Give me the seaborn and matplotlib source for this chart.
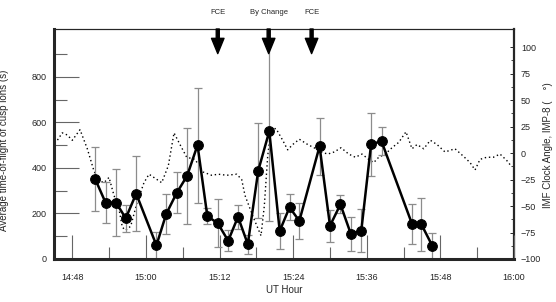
import numpy as np
import pandas as pd
import seaborn as sns
import matplotlib.pyplot as plt
from matplotlib.ticker import FixedLocator, FixedFormatter
import matplotlib.transforms as mtransforms

# time in minutes after 14:00 UT
tof_time = [51.7, 53.4, 55.1, 56.7, 58.4, 61.7, 63.3, 65.0, 66.7, 68.4,
            70.0, 71.7, 73.4, 75.0, 76.6, 78.3, 80.1, 81.8, 83.4, 85.0,
            88.3, 90.0, 91.7, 93.4, 95.1, 96.7, 98.4, 103.4, 104.9, 106.7]
tof_value = [352, 248, 248, 179, 287, 60, 198, 290, 365, 500,
             188, 157, 80, 185, 65, 388, 561, 123, 227, 167,
             495, 146, 240, 110, 124, 504, 517, 152, 152, 57]
tof_err_lo = [140, 90, 147, 60, 165, 60, 89, 90, 210, 252,
              35, 105, 47, 54, 42, 210, 393, 81, 57, 79,
              125, 70, 40, 75, 95, 138, 62, 88, 115, 55]
tof_err_hi = [140, 90, 147, 60, 165, 60, 89, 90, 210, 252,
              35, 105, 47, 54, 42, 210, 470, 81, 57, 79,
              125, 70, 40, 75, 95, 138, 62, 88, 115, 55]

imf_time = [45.0, 45.54, 46.35, 47.17, 47.98, 49.24, 50.43, 51.52, 52.34, 53.15,
            53.97, 54.78, 55.60, 56.14, 56.69, 57.51, 58.58, 59.67, 60.49, 62.56,
            63.64, 64.57, 65.54, 66.64, 67.99, 69.34, 70.71, 71.79, 73.16, 74.79,
            75.60, 76.14, 77.45, 78.75, 79.29, 79.84, 80.38, 81.20, 82.29, 83.10,
            83.92, 85.00, 86.37, 87.72, 88.54, 89.63, 90.70, 91.80, 93.05, 94.13,
            95.22, 96.31, 97.13, 97.94, 99.02, 100.11, 101.20, 102.39, 103.37, 104.19,
            105.28, 106.36, 107.45, 108.75, 110.38, 111.74, 112.83, 113.65, 114.46, 115.55,
            116.63, 117.72, 118.81, 119.63]
imf_angle = [10, 12, 19, 17, 12, 22, 4, -17, -26, -28,
             -23, -40, -53, -70, -73, -69, -46, -28, -20, -28,
             -12, 19, 8, -4, -6, -18, -21, -20, -21, -20,
             -25, -40, -60, -78, -50, -3, 23, 23, 12, 3,
             8, 13, 8, 4, 1, -1, 1, 5, -1, -4,
             -1, -6, -9, -4, -1, 5, 10, 20, 4, 8,
             4, 12, 8, 1, 4, -3, -9, -16, -6, -4,
             -4, -1, -7, -13]

event_time = [71.7, 80.0, 87.0]
event_label = ['FCE', 'By Change', 'FCE']

xtick_pos = [48, 60, 72, 84, 96, 108, 120]
xtick_lab = ['14:48', '15:00', '15:12', '15:24', '15:36', '15:48', '16:00']

sns.set_style('ticks')
plt.rcParams['font.family'] = ['Liberation Sans', 'DejaVu Sans']

fig = plt.figure(figsize=(5.56, 3.02), dpi=100)
ax = fig.add_axes([54 / 556, 43 / 302, 460 / 556, 230 / 302])
ax2 = ax.twinx()
ax.set_zorder(ax2.get_zorder() + 1)
ax.patch.set_visible(False)

# IMF clock angle (dotted, right axis)
sns.lineplot(x=imf_time, y=imf_angle, ax=ax2, color='black',
             linestyle=(0, (1, 2)), linewidth=1.0, sort=False)

# time-of-flight with error bars (left axis)
ax.errorbar(tof_time, tof_value, yerr=[tof_err_lo, tof_err_hi], fmt='none',
            ecolor='#8c8c8c', elinewidth=0.9, capsize=3, capthick=0.9, zorder=1)
sns.lineplot(x=tof_time, y=tof_value, ax=ax, color='black', linewidth=1.8,
             marker='o', markersize=7, markeredgecolor='black', sort=False, zorder=3)

ax.set_xlim(45, 120)
ax.set_ylim(0, 1010)
ax2.set_ylim(-100, 117)

ax.xaxis.set_major_locator(FixedLocator(xtick_pos))
ax.xaxis.set_major_formatter(FixedFormatter(xtick_lab))
ax.xaxis.set_minor_locator(FixedLocator([54, 66, 78, 90, 102, 114]))
ax.yaxis.set_major_locator(FixedLocator([0, 200, 400, 600, 800]))
ax.yaxis.set_minor_locator(FixedLocator([100, 300, 500, 700, 900]))
ax2.yaxis.set_major_locator(FixedLocator([-100, -75, -50, -25, 0, 25, 50, 75, 100]))
ax2.yaxis.set_minor_locator(FixedLocator(np.arange(-87.5, 110, 25)))

ax.tick_params(axis='x', which='major', direction='in', length=17, width=0.8,
               color='#666666', labelsize=6.5, pad=10)
ax.tick_params(axis='x', which='minor', direction='in', length=8.5, width=0.8,
               color='#666666')
ax.tick_params(axis='y', which='major', direction='in', length=18, width=0.8,
               color='#666666', labelsize=6.5, pad=5)
ax.tick_params(axis='y', which='minor', direction='in', length=9, width=0.8,
               color='#666666')
ax2.tick_params(axis='y', which='major', direction='in', length=3, width=0.7,
                labelsize=6.5, pad=5)
ax2.tick_params(axis='y', which='minor', direction='in', length=2, width=0.6)

ax.spines['left'].set_linewidth(2.2)
ax.spines['bottom'].set_linewidth(2.2)
ax.spines['top'].set_linewidth(0.8)
ax2.spines['right'].set_linewidth(1.6)
ax2.spines['top'].set_linewidth(0.8)
for sp in ['left', 'bottom']:
    ax2.spines[sp].set_visible(False)
ax.spines['right'].set_visible(False)

ax.set_xlabel('UT Hour', fontsize=7)
ax.xaxis.set_label_coords(0.5, -0.115)
ax.set_ylabel('')
ax2.set_ylabel('')
fig.text(4 / 556, 1 - 150 / 302, 'Average time-of-flight of cusp ions (s)',
         rotation=90, fontsize=7, ha='center', va='center')
fig.text(548 / 556, 1 - 145 / 302, 'IMF Clock Angle, IMP-8 (    °)',
         rotation=90, fontsize=7, ha='center', va='center')

# event arrows and labels above the plot
trans = mtransforms.blended_transform_factory(ax.transData, ax.transAxes)
for t, lab in zip(event_time, event_label):
    ax.annotate('', xy=(t, 0.893), xycoords=trans, xytext=(t, 1.0), textcoords=trans,
                arrowprops=dict(width=2.2, headwidth=9, headlength=11, shrink=0,
                                color='black'), annotation_clip=False)
    ax.text(t, 1.07, lab, transform=trans, fontsize=5.5, ha='center', va='center')

fig.savefig('out.png', dpi=100)
